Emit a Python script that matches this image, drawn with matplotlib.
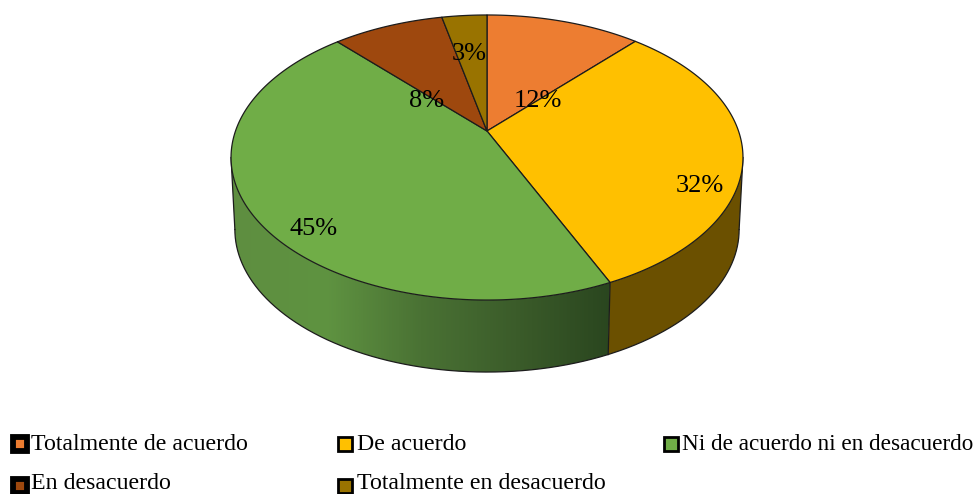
import numpy as np
import matplotlib
matplotlib.use('Agg')
import matplotlib.pyplot as plt
from matplotlib.colors import LinearSegmentedColormap
from matplotlib.patches import Polygon

# Datos del grafico
categorias = ['Totalmente de acuerdo', 'De acuerdo', 'Ni de acuerdo ni en desacuerdo',
              'En desacuerdo', 'Totalmente en desacuerdo']
valores = [11.7, 31.6, 44.8, 8.4, 3.4]
colores = ['#ED7D31', '#FFC000', '#70AD47', '#9E480E', '#997300']
colores_lado = ['#7A4018', '#6B5000', '#548235', '#5A2A08', '#5A4400']
grad_pos = [0.0, 0.25, 0.5, 0.75, 1.0]
grad_colores = ['#5E8E40', '#5F9341', '#4A7234', '#3B5C2A', '#2A461F']

# Proyeccion de la tarta (perspectiva)
CX, CY = 487.0, 131.0
C = 0.186
A = 137.6
D = 251.5
ALTO = 72.0
ESCALA_BASE = 0.985
ANG_SIL = 90 + np.degrees(np.arcsin(C))


def proyecta(ang, base=False):
    t = np.radians(np.asarray(ang))
    x, y = np.sin(t), np.cos(t)
    den = 1 + C * y
    px = D * x / den
    py = A * y / den
    if base:
        return CX + px * ESCALA_BASE, CY - py + ALTO
    return CX + px, CY - py


plt.rcParams['font.family'] = ['Liberation Serif', 'DejaVu Serif']

fig = plt.figure(figsize=(9.79, 4.94), dpi=100)
ax = fig.add_axes([0, 0, 1, 1])

cortes = np.concatenate([[0], np.cumsum(valores)]) * 360.0 / sum(valores)
cmap_verde = LinearSegmentedColormap.from_list('verde', list(zip(grad_pos, grad_colores)))
borde = '#1c1c1c'

# Paredes laterales visibles
for i in range(len(valores)):
    a0 = max(cortes[i], ANG_SIL)
    a1 = min(cortes[i + 1], 360 - ANG_SIL)
    if a1 <= a0:
        continue
    angs = np.linspace(a0, a1, 300)
    x_top, y_top = proyecta(angs)
    x_bot, y_bot = proyecta(angs, base=True)
    xy = np.c_[np.r_[x_top, x_bot[::-1]], np.r_[y_top, y_bot[::-1]]]
    if i == 2:
        # la pared verde lleva degradado horizontal
        parche = Polygon(xy, closed=True, facecolor='none', edgecolor='none', zorder=2)
        ax.add_patch(parche)
        im = ax.imshow(np.linspace(0, 1, 400).reshape(1, -1), cmap=cmap_verde, vmin=0, vmax=1,
                       extent=[xy[:, 0].min(), xy[:, 0].max(), xy[:, 1].max(), xy[:, 1].min()],
                       aspect='auto', zorder=2)
        im.set_clip_path(parche)
    else:
        ax.add_patch(Polygon(xy, closed=True, facecolor=colores_lado[i], edgecolor='none', zorder=2))
    ax.plot(x_bot, y_bot, color=borde, lw=0.9, zorder=3)

# Aristas verticales de la pared
for ang in [cortes[2], ANG_SIL, 360 - ANG_SIL]:
    xa, ya = proyecta(ang)
    xb, yb = proyecta(ang, base=True)
    ax.plot([xa, xb], [ya, yb], color=borde, lw=0.9, zorder=3)

# Cara superior
for i in range(len(valores)):
    angs = np.linspace(cortes[i], cortes[i + 1], 200)
    x_top, y_top = proyecta(angs)
    ax.fill(np.r_[CX, x_top], np.r_[CY, y_top], facecolor=colores[i],
            edgecolor=borde, lw=0.9, zorder=4, joinstyle='round')

# Etiquetas de porcentaje
pos_etiquetas = [(538, 101), (700, 186), (314, 229), (427, 101), (469, 54)]
for v, (px, py) in zip(valores, pos_etiquetas):
    ax.text(px, py, f'{v:.0f}%', fontsize=19, ha='center', va='center', color='black', zorder=6)

# Leyenda
pos_marca = [(20, 443.5), (345, 443.5), (671, 443.5), (20, 486), (345, 486)]
pos_texto = [(31, 450), (357, 450), (682, 450), (31, 488.5), (357, 488.5)]
tam_texto = [17.2, 17.2, 16.7, 17.2, 17.2]
gruesos = [True, False, False, True, False]
for nombre, col, grueso, (px, py), (tx, ty), tam in zip(categorias, colores, gruesos, pos_marca, pos_texto, tam_texto):
    ax.scatter([px], [py], s=95 if grueso else 105, marker='s', facecolor=col, edgecolor='black',
               linewidths=4.2 if grueso else 2, joinstyle='miter', zorder=6)
    ax.text(tx, ty, nombre, fontsize=tam, ha='left', va='baseline', color='black', zorder=6)

ax.set_xlim(0, 979)
ax.set_ylim(494, 0)
ax.axis('off')

fig.savefig('out.png', dpi=100)
